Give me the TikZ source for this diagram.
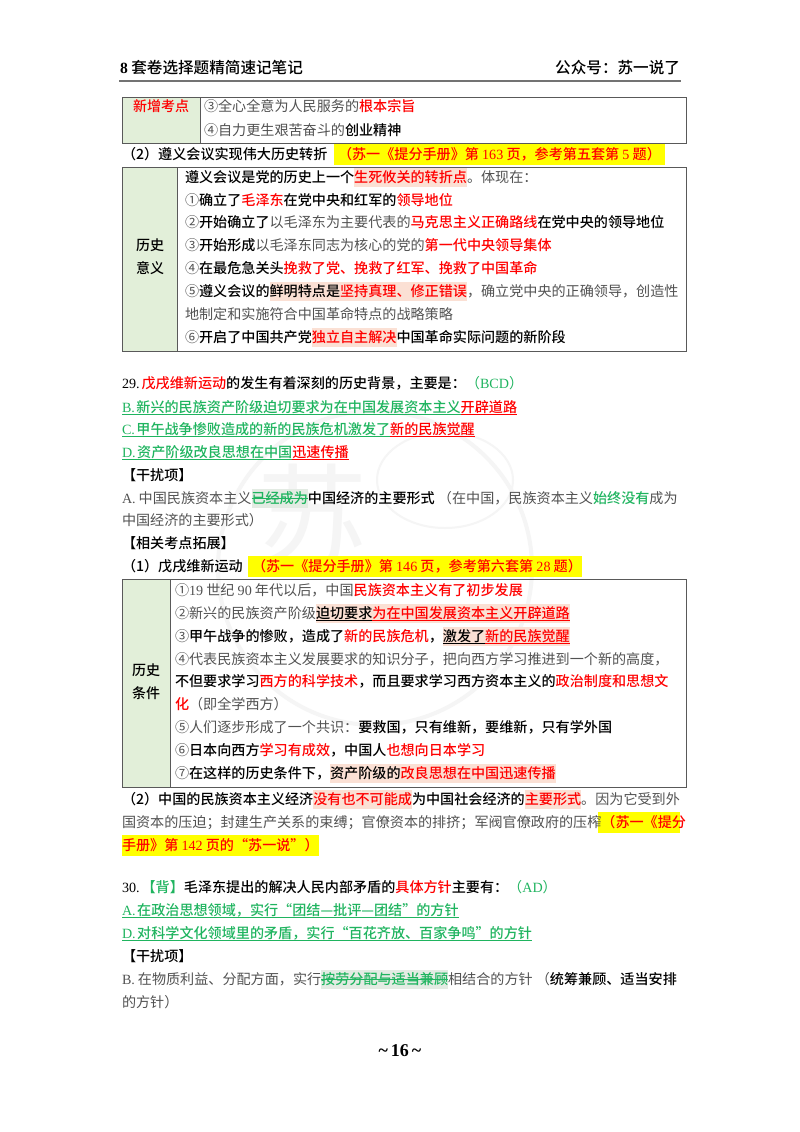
\documentclass[tikz,border=0pt]{standalone}
\usepackage{fontspec}
\setmainfont{Noto Sans CJK SC}[BoldFont={Noto Sans CJK SC Medium}]
\newfontfamily\latf{Liberation Serif}
\usetikzlibrary{positioning}
\definecolor{bodygray}{gray}{0.32}
\definecolor{lblgreen}{HTML}{E2EFD9}
\definecolor{ansgreen}{HTML}{1FB45F}
\definecolor{hlred}{HTML}{FBE0D4}
\definecolor{hlgreen}{HTML}{E3EBE3}
\definecolor{marklt}{HTML}{FFFF00}
\definecolor{wmark}{gray}{0.96}
\newcommand{\bk}[1]{{\bfseries\color{black}#1}}
\newcommand{\rd}[1]{{\bfseries\color{red}#1}}
\newcommand{\gn}[1]{{\color{ansgreen}#1}}
\newcommand{\gb}[1]{{\bfseries\color{ansgreen}#1}}
\newcommand{\nm}[1]{{\latf\mdseries #1}}
\newcommand{\hl}[2][hlred]{{\fboxsep=0pt\colorbox{#1}{\rule[-4.5pt]{0pt}{18.5pt}#2}}}
\newcommand{\ul}[2]{{\setbox0\hbox{#2}\rlap{\color{#1}\rule[-3pt]{\wd0}{0.9pt}}\box0}}
\newcommand{\sk}[2]{{\setbox0\hbox{#2}\rlap{\color{#1}\rule[4pt]{\wd0}{0.9pt}}\box0}}
\tikzset{
  every node/.style={inner sep=0pt,outer sep=0pt},
  txt/.style={anchor=base west,font=\fontsize{14.1}{16}\selectfont,text=bodygray},
  head/.style={anchor=base west,font=\fontsize{15.6}{17}\selectfont\bfseries,text=black},
  lbl/.style={anchor=base,font=\fontsize{14}{16}\selectfont\bfseries,text=black},
  cell/.style={draw=black!65,line width=1pt},
  lblcell/.style={fill=lblgreen,draw=black!65,line width=1pt},
  yellowbar/.style={fill=marklt,draw=none},
}
\begin{document}
\begin{tikzpicture}[x=1pt,y=-1pt]
\useasboundingbox (0,0) rectangle (800,1132);
\fill[white] (0,0) rectangle (800,1132);
% watermark
\draw[wmark,line width=4pt] (375,568) circle (157);
\draw[wmark,line width=2pt] (445,480) ellipse (68 and 48);
\node[anchor=center,font=\fontsize{110}{110}\selectfont,text=wmark] (wm) at (312,515) {苏};
% header
\node[head] (hdl) at (120,74) {{\latf\bfseries 8} 套卷选择题精简速记笔记};
\node[head,anchor=base east] (hdr) at (680,74) {公众号：苏一说了};
\coordinate (rulel) at (119,81);
\coordinate (ruler) at (681,81);
\draw[black!55,line width=1.6pt] (rulel) -- (ruler);
% table one
\draw[lblcell] (122,97) rectangle (200,143);
\draw[cell] (122,97) rectangle (686,143);
\node[lbl,text=red] (t1l) at (161,111) {新增考点};
\node[txt] (t1a) at (204,111) {③全心全意为人民服务的\rd{根本宗旨}};
\node[txt] (t1b) at (204,135) {④自力更生艰苦奋斗的\bk{创业精神}};
% heading with yellow bar
\fill[yellowbar] (334,144) rectangle (665,165);
\node[txt] (s2) at (122,159) {\bk{（2）遵义会议实现伟大历史转折}};
\node[txt] (s2m) at (338,159) {\rd{（苏一《提分手册》第 \nm{163} 页，参考第五套第 \nm{5} 题）}};
% table two
\draw[lblcell] (122,167) rectangle (177,351);
\draw[cell] (122,167) rectangle (686,351);
\node[lbl] (t2la) at (150,250) {历史};
\node[lbl] (t2lb) at (150,273) {意义};
\node[txt] (t2a) at (185,182) {\bk{遵义会议是党的历史上一个}\hl{\rd{生死攸关的转折点}}。体现在：};
\node[txt] (t2b) at (185,205) {①\bk{确立了}\rd{毛泽东}\bk{在党中央和红军的}\rd{领导地位}};
\node[txt] (t2c) at (185,227) {②\bk{开始确立了}以毛泽东为主要代表的\rd{马克思主义正确路线}\bk{在党中央的领导地位}};
\node[txt] (t2d) at (185,250) {③\bk{开始形成}以毛泽东同志为核心的党的\rd{第一代中央领导集体}};
\node[txt] (t2e) at (185,273) {④\bk{在最危急关头}\rd{挽救了党、挽救了红军、挽救了中国革命}};
\node[txt] (t2f) at (185,296) {⑤\bk{遵义会议的}\hl{\bk{鲜明特点是}\rd{坚持真理、修正错误}}，确立党中央的正确领导，创造性};
\node[txt] (t2g) at (185,319) {地制定和实施符合中国革命特点的战略策略};
\node[txt] (t2h) at (185,342) {⑥\bk{开启了中国共产党}\hl{\rd{独立自主解决}}\bk{中国革命实际问题的新阶段}};
% question 29
\node[txt] (q29) at (122,388) {\bk{\nm{29.\kern2pt}}\rd{戊戌维新运动}\bk{的发生有着深刻的历史背景，主要是：}\gn{（\nm{BCD}）}};
\node[txt] (q29b) at (122,412) {\ul{ansgreen}{\gb{\nm{B.\kern1.5pt}新兴的民族资产阶级迫切要求为在中国发展资本主义}}\ul{red}{\rd{开辟道路}}};
\node[txt] (q29c) at (122,434) {\ul{ansgreen}{\gb{\nm{C.\kern1.5pt}甲午战争惨败造成的新的民族危机激发了}}\ul{red}{\rd{新的民族觉醒}}};
\node[txt] (q29d) at (122,457) {\ul{ansgreen}{\gb{\nm{D.\kern1.5pt}资产阶级改良思想在中国}}\ul{red}{\rd{迅速传播}}};
\node[txt] (q29x) at (122,480) {\bk{【干扰项】}};
\node[txt] (q29a) at (122,503) {\nm{A.\kern3pt}中国民族资本主义\hl[hlgreen]{\sk{ansgreen}{\gb{已经成为}}}\bk{中国经济的主要形式}\ （在中国，民族资本主义\gb{始终没有}成为};
\node[txt] (q29e) at (122,525) {中国经济的主要形式）};
\node[txt] (q29k) at (122,548) {\bk{【相关考点拓展】}};
\fill[yellowbar] (248,556) rectangle (582,577);
\node[txt] (s1) at (122,571) {\bk{（1）戊戌维新运动}};
\node[txt] (s1m) at (252,571) {\rd{（苏一《提分手册》第 \nm{146} 页，参考第六套第 \nm{28} 题）}};
% table three
\draw[lblcell] (122,579) rectangle (170,787);
\draw[cell] (122,579) rectangle (686,787);
\node[lbl] (t3la) at (146,675) {历史};
\node[lbl] (t3lb) at (146,698) {条件};
\node[txt] (t3a) at (175,595) {①\nm{19} 世纪 \nm{90} 年代以后，中国\rd{民族资本主义有了初步发展}};
\node[txt] (t3b) at (175,618) {②新兴的民族资产阶级\hl{\ul{black}{\bk{迫切要求}}\ul{red}{\rd{为在中国发展资本主义开辟道路}}}};
\node[txt] (t3c) at (175,641) {③\bk{甲午战争的惨败，造成了}\rd{新的民族危机}\bk{，}\hl{\ul{black}{\bk{激发了}}\ul{red}{\rd{新的民族觉醒}}}};
\node[txt] (t3d) at (175,664) {④代表民族资本主义发展要求的知识分子，把向西方学习推进到一个新的高度，};
\node[txt] (t3e) at (175,686) {\bk{不但要求学习}\rd{西方的科学技术}\bk{，而且要求学习西方资本主义的}\rd{政治制度和思想文}};
\node[txt] (t3f) at (175,709) {\rd{化}（即全学西方）};
\node[txt] (t3g) at (175,732) {⑤人们逐步形成了一个共识：\bk{要救国，只有维新，要维新，只有学外国}};
\node[txt] (t3h) at (175,755) {⑥\bk{日本向西方}\rd{学习有成效}\bk{，中国人}\rd{也想向日本学习}};
\node[txt] (t3i) at (175,778) {⑦\bk{在这样的历史条件下，}\hl{\bk{资产阶级的}\rd{改良思想在中国迅速传播}}};
% paragraph below table three
\fill[yellowbar] (598,812) rectangle (680,833);
\fill[yellowbar] (122,835) rectangle (319,856);
\node[txt] (p2a) at (122,804) {\bk{（2）中国的民族资本主义经济}\hl{\rd{没有也不可能成}}\bk{为中国社会经济的}\hl{\rd{主要形式}}。因为它受到外};
\node[txt] (p2b) at (122,827) {国资本的压迫；封建生产关系的束缚；官僚资本的排挤；军阀官僚政府的压榨\rd{（苏一《提分}};
\node[txt] (p2c) at (122,850) {\rd{手册》第 \nm{142} 页的“苏一说”）}};
% question 30
\node[txt] (q30) at (122,892) {\bk{\nm{30.\kern2pt}}\gb{【背】}\bk{毛泽东提出的解决人民内部矛盾的}\rd{具体方针}\bk{主要有：}\gn{（\nm{AD}）}};
\node[txt] (q30a) at (122,915) {\ul{ansgreen}{\gb{\nm{A.\kern1.5pt}在政治思想领域，实行“团结—批评—团结”的方针}}};
\node[txt] (q30d) at (122,938) {\ul{ansgreen}{\gb{\nm{D.\kern1.5pt}对科学文化领域里的矛盾，实行“百花齐放、百家争鸣”的方针}}};
\node[txt] (q30x) at (122,961) {\bk{【干扰项】}};
\node[txt] (q30b) at (122,984) {\nm{B.\kern3pt}在物质利益、分配方面，实行\hl[hlgreen]{\sk{ansgreen}{\gb{按劳分配与适当兼顾}}}相结合的方针\ （\bk{统筹兼顾、适当安排}};
\node[txt] (q30e) at (122,1007) {的方针）};
% page number
\node[anchor=base,font=\fontsize{18}{20}\selectfont,text=black] (pg) at (400,1056) {{\latf\bfseries\symbol{126}\kern3pt 16\kern3pt\symbol{126}}};
\end{tikzpicture}
\end{document}
